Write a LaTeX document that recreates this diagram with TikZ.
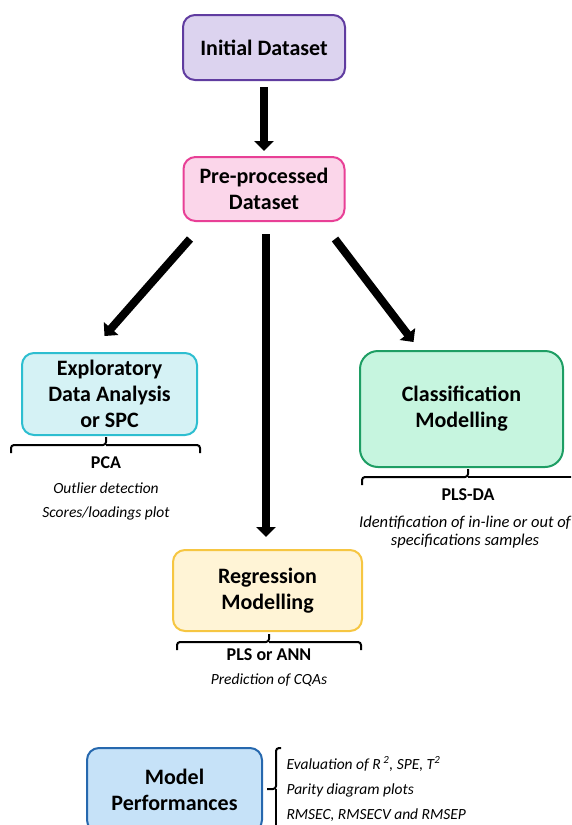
\documentclass[tikz,border=0pt]{standalone}
\usepackage{fontspec}
\setmainfont{Carlito}
\usepackage{xcolor}
\usepackage{tikz}
\usetikzlibrary{arrows.meta}
\definecolor{initline}{RGB}{96,60,160}
\definecolor{initfill}{RGB}{220,211,239}
\definecolor{prepline}{RGB}{232,64,150}
\definecolor{prepfill}{RGB}{251,214,234}
\definecolor{edaline}{RGB}{45,190,208}
\definecolor{edafill}{RGB}{213,242,245}
\definecolor{clsline}{RGB}{30,158,100}
\definecolor{clsfill}{RGB}{198,245,223}
\definecolor{regline}{RGB}{246,198,66}
\definecolor{regfill}{RGB}{255,244,214}
\definecolor{perfline}{RGB}{38,104,174}
\definecolor{perffill}{RGB}{198,226,248}

\begin{document}
\begin{tikzpicture}[x=1pt,y=-1pt,
  stage/.style={draw, line width=2pt, rounded corners=12pt, align=center,
    inner sep=0pt, font=\fontsize{22}{26}\selectfont\bfseries},
  method/.style={font=\fontsize{18}{21}\selectfont\bfseries},
  usage/.style={font=\fontsize{15.5}{18}\selectfont\itshape, align=center},
  bigarrow/.style={line width=8pt, -{Triangle[length=10pt,width=19pt]}},
  bracket/.style={line width=2pt, rounded corners=3pt}]
\useasboundingbox (0,0) rectangle (571,825);
\clip (0,0) rectangle (571,825);

% Stages
\node[stage, draw=initline, fill=initfill, minimum width=162pt, minimum height=65pt]
  (init) at (264,47.5) {Initial Dataset};
\node[stage, draw=prepline, fill=prepfill, minimum width=161pt, minimum height=64pt]
  (prep) at (264,189) {Pre-processed\\Dataset};
\node[stage, draw=edaline, fill=edafill, minimum width=175pt, minimum height=82pt]
  (eda) at (109.5,394) {Exploratory\\Data Analysis\\or SPC};
\node[stage, draw=clsline, fill=clsfill, minimum width=203pt, minimum height=116pt,
  rounded corners=18pt] (cls) at (461.5,409) {Classification\\Modelling};
\node[stage, draw=regline, fill=regfill, minimum width=189pt, minimum height=81pt]
  (reg) at (267.5,590.5) {Regression\\Modelling};
\node[stage, draw=perfline, fill=perffill, minimum width=175pt, minimum height=84pt]
  (perf) at (174.5,790) {Model\\Performances};

% Arrows
\draw[bigarrow, shorten <=6pt, shorten >=5pt] (init) -- (prep);
\draw[bigarrow] ([xshift=-74pt,yshift=-17pt]prep.south) -- ([xshift=-5pt,yshift=16pt]eda.north);
\draw[bigarrow, shorten <=12pt, shorten >=12pt] ([xshift=2pt]prep.south) -- ([xshift=-1.5pt]reg.north);
\draw[bigarrow] ([xshift=71pt,yshift=-17pt]prep.south) -- ([xshift=-48pt,yshift=8pt]cls.north);

% Brackets
\draw[bracket] (11,453) |- (106,445) -- (106,437);
\draw[bracket] (106,445) -| (200,453);
\draw[bracket] (362,485) |- (468,477) -- (468,469);
\draw[bracket] (468,477) -- (580,477);
\draw[bracket] (177,650) |- (269,642) -- (269,634);
\draw[bracket] (269,642) -| (361,650);
\draw[bracket] (281,748) -| (276,789) -- (267,789);
\draw[bracket] (276,789) -- (276,830);

% Methods and uses
\node[method] (pca) at (106,463) {PCA};
\node[usage] (pcause1) at (106,488) {Outlier detection};
\node[usage] (pcause2) at (106,513) {Scores/loadings plot};
\node[method] (plsda) at (468,495) {PLS-DA};
\node[usage, font=\fontsize{16.5}{18}\selectfont\itshape] (plsdause) at (465,532)
  {Identification of in-line or out of\\specifications samples};
\node[method] (pls) at (269,655) {PLS or ANN};
\node[usage] (plsuse) at (269,680) {Prediction of CQAs};
\node[usage, anchor=west] (eval1) at (283,764) {Evaluation of R\,\textsuperscript{2}, SPE, T\textsuperscript{2}};
\node[usage, anchor=west] (eval2) at (283,790) {Parity diagram plots};
\node[usage, anchor=west] (eval3) at (283,815) {RMSEC, RMSECV and RMSEP};
\end{tikzpicture}
\end{document}
